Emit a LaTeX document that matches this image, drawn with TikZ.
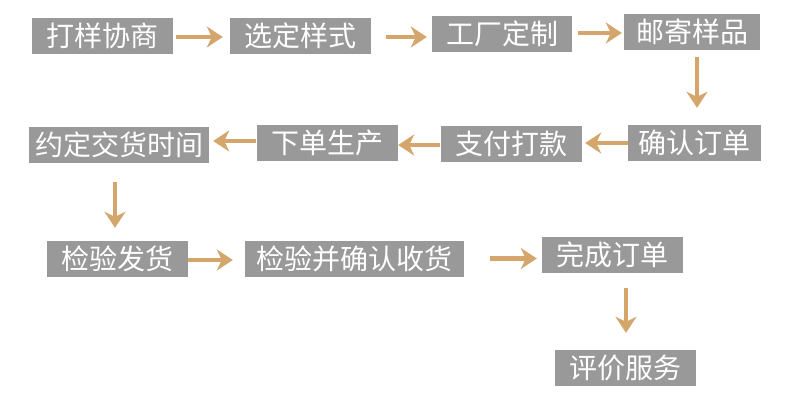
\documentclass[tikz,border=0pt]{standalone}
\usepackage{fontspec}
\newfontfamily\cjk{Noto Sans CJK SC}
\usepackage{xcolor}
\usepackage{tikz}
\usetikzlibrary{arrows.meta,positioning,calc}
\definecolor{stepgray}{RGB}{153,153,153}
\definecolor{flowtan}{RGB}{212,166,108}

\begin{document}
\begin{tikzpicture}[
    x=1pt, y=-1pt,
    stepbox/.style={fill=stepgray, text=white, font=\cjk\fontsize{28}{30}\selectfont, minimum height=36pt, inner sep=0pt, anchor=center},
    flow/.style={draw=flowtan, line width=4.5pt, -{Stealth[length=16pt,width=21pt,inset=5pt]}}
]
\useasboundingbox (0,0) rectangle (790,408);
% first row
\node[stepbox, minimum width=141pt] (proof) at (102.5,36) {打样协商};
\node[stepbox, minimum width=141pt] (style) at (300.5,36) {选定样式};
\node[stepbox, minimum width=140pt] (factory) at (502,34) {工厂定制};
\node[stepbox, minimum width=136pt] (mail) at (692,32) {邮寄样品};
% second row, right to left
\node[stepbox, minimum width=133pt] (confirm) at (694.5,143) {确认订单};
\node[stepbox, minimum width=141pt] (pay) at (511.5,144) {支付打款};
\node[stepbox, minimum width=141pt] (produce) at (327.5,143) {下单生产};
\node[stepbox, minimum width=180pt] (date) at (119,145) {约定交货时间};
% third row
\node[stepbox, minimum width=141pt] (ship) at (117.5,259) {检验发货};
\node[stepbox, minimum width=219pt] (accept) at (354.5,258.5) {检验并确认收货};
\node[stepbox, minimum width=141pt] (done) at (612.5,255) {完成订单};
\node[stepbox, minimum width=141pt] (review) at (625.5,368) {评价服务};

\draw[flow, shorten <=3pt, shorten >=7pt] ([yshift=-1pt]proof.east) -- ([yshift=-1pt]proof.east -| style.west);
\draw[flow, shorten <=15pt, shorten >=5pt] ([yshift=-1pt]style.east) -- ([yshift=-1pt]style.east -| factory.west);
\draw[flow, shorten <=6pt, shorten >=2pt] ([yshift=1pt]factory.east) -- ([yshift=1pt]factory.east -| mail.west);
\draw[flow, shorten <=7pt, shorten >=17pt] ([xshift=5pt]mail.south) -- ([xshift=5pt]mail.south |- confirm.north);
\draw[flow, shorten <=0pt, shorten >=3pt] (confirm.west) -- (confirm.west -| pay.east);
\draw[flow, shorten <=1pt, shorten >=0pt] ([yshift=-1pt]pay.west) -- ([yshift=-1pt]pay.west -| produce.east);
\draw[flow, shorten <=1pt, shorten >=4pt] ([yshift=2pt]produce.west) -- ([yshift=2pt]produce.west -| date.east);
\draw[flow, shorten <=19pt, shorten >=13pt] ([xshift=-4pt]date.south) -- ([xshift=-4pt]date.south |- ship.north);
\draw[flow, shorten <=0pt, shorten >=12pt] ([yshift=-1pt]ship.east) -- ([yshift=-1pt]ship.east -| accept.west);
\draw[flow, shorten <=26pt, shorten >=5pt] (accept.east) -- (accept.east -| done.west);
\draw[flow, shorten <=15pt, shorten >=17pt] ([xshift=13.5pt]done.south) -- ([xshift=13.5pt]done.south |- review.north);
\end{tikzpicture}
\end{document}
